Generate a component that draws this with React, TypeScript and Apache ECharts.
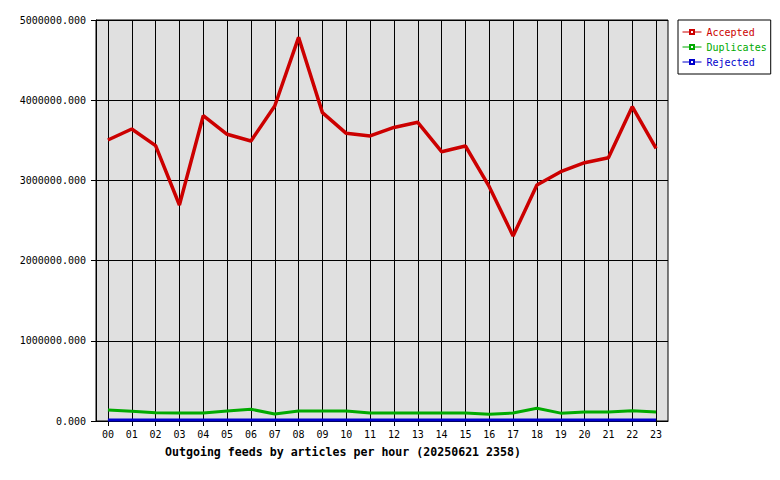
import { useEffect, useRef } from 'react';
import * as echarts from 'echarts';

const hours = ['00', '01', '02', '03', '04', '05', '06', '07', '08', '09', '10', '11', '12', '13', '14', '15', '16', '17', '18', '19', '20', '21', '22', '23'];
const accepted = [3504000, 3641000, 3433000, 2693000, 3807000, 3575000, 3491000, 3928000, 4784000, 3845000, 3587000, 3554000, 3660000, 3724000, 3358000, 3429000, 2922000, 2307000, 2943000, 3109000, 3221000, 3283000, 3919000, 3400000];
const duplicates = [137000, 121000, 104000, 100000, 100000, 125000, 146000, 87000, 125000, 125000, 125000, 100000, 100000, 100000, 100000, 100000, 83000, 100000, 158000, 98000, 112000, 112000, 129000, 112000];
const rejected = [12000, 12000, 12000, 12000, 12000, 12000, 12000, 12000, 12000, 12000, 12000, 12000, 12000, 12000, 12000, 12000, 12000, 12000, 12000, 12000, 12000, 12000, 12000, 12000];
const seriesNames = ['Accepted', 'Duplicates', 'Rejected'];
const seriesColors = ['#cc0000', '#00aa00', '#0000cc'];
const titleText = 'Outgoing feeds by articles per hour (20250621 2358)';

const FONT = 'DejaVu Sans Mono';

export default function App() {
  const ref = useRef<HTMLDivElement>(null);
  useEffect(() => {
    if (!ref.current) return;
    const chart = echarts.init(ref.current, undefined, { renderer: 'svg' });
    const values = [accepted, duplicates, rejected];
    chart.setOption({
      animation: false,
      backgroundColor: '#ffffff',
      title: {
        text: titleText,
        left: 165,
        top: 446,
        padding: 0,
        textStyle: { fontFamily: FONT, fontSize: 11.6, fontWeight: 'bold', color: '#000' },
      },
      legend: {
        orient: 'vertical',
        left: 678,
        top: 20,
        padding: [7, 4, 7, 4],
        itemWidth: 19,
        itemHeight: 5,
        itemGap: 5,
        borderColor: '#000',
        borderWidth: 1,
        backgroundColor: '#fff',
        lineStyle: { width: 1 },
        itemStyle: { borderWidth: 1 },
        textStyle: { fontFamily: FONT, fontSize: 10, lineHeight: 10 },
        data: seriesNames.map((n, i) => ({ name: n, textStyle: { color: seriesColors[i] } })),
      },
      grid: {
        left: 96,
        top: 20,
        right: 112,
        bottom: 59,
        show: true,
        backgroundColor: '#e0e0e0',
        borderColor: '#000',
        borderWidth: 1,
      },
      xAxis: {
        type: 'category',
        data: hours,
        boundaryGap: true,
        axisLine: { lineStyle: { color: '#000', width: 1 } },
        axisTick: { show: true, alignWithLabel: true, length: 5, lineStyle: { color: '#000' } },
        axisLabel: { interval: 0, margin: 8, fontFamily: FONT, fontSize: 10, color: '#000' },
        splitLine: { show: false },
      },
      yAxis: {
        type: 'value',
        min: 0,
        max: 5000000,
        interval: 1000000,
        axisLine: { show: true, lineStyle: { color: '#000', width: 1 } },
        axisTick: { show: true, length: 5, lineStyle: { color: '#000' } },
        axisLabel: {
          margin: 10,
          fontFamily: FONT,
          fontSize: 10,
          color: '#000',
          formatter: (v: number) => v.toFixed(3),
        },
        splitLine: { show: true, lineStyle: { color: '#000', width: 1, type: 'solid' } },
      },
      series: seriesNames.map((name, i) => ({
        name,
        type: 'line',
        data: values[i],
        symbol: 'emptyRect',
        symbolSize: 4,
        showSymbol: false,
        color: seriesColors[i],
        lineStyle: { color: seriesColors[i], width: i === 0 ? 3.5 : 3 },
        itemStyle: { color: seriesColors[i], borderColor: seriesColors[i] },
        z: 3 + i,
        emphasis: { disabled: true },
        markLine:
          i === 0
            ? {
                silent: true,
                symbol: 'none',
                z: 1,
                label: { show: false },
                emphasis: { disabled: true },
                lineStyle: { color: '#000', width: 1, type: 'solid' },
                data: hours.map((h) => ({ xAxis: h })),
              }
            : undefined,
      })),
    });
    return () => chart.dispose();
  }, []);
  return (
    <div
      ref={ref}
      style={{ position: 'fixed', left: 0, top: 0, width: 780, height: 480, background: '#fff' }}
    />
  );
}
